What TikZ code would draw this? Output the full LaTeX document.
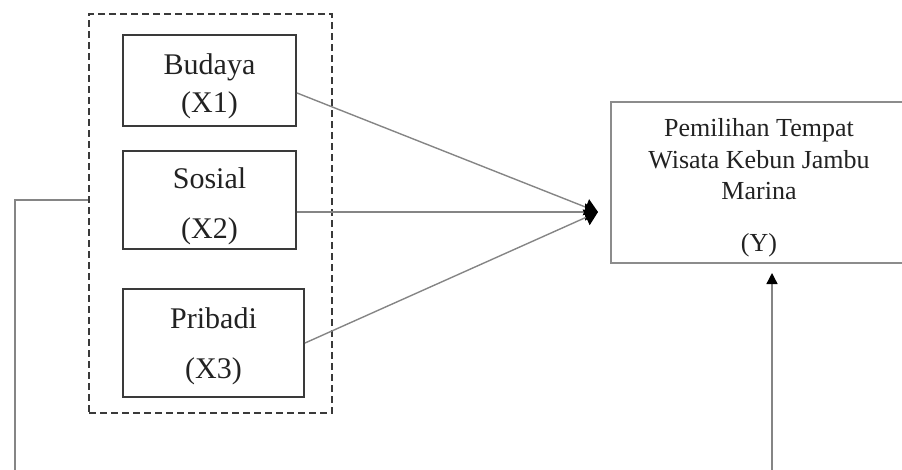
\documentclass[tikz,border=0pt]{standalone}
\usepackage{fontspec}
\setmainfont{Liberation Serif}
\usetikzlibrary{arrows.meta,calc}
\definecolor{boxline}{HTML}{3A3A3A}
\definecolor{conn}{HTML}{858585}
\definecolor{ybox}{HTML}{8C8C8C}
\definecolor{txt}{HTML}{222222}
\tikzset{
  varbox/.style={draw=boxline, line width=2pt, rectangle, inner sep=0pt},
  vartext/.style={align=center, text=txt, inner sep=0pt, font=\fontsize{30}{38}\selectfont},
  ytext/.style={align=center, text=txt, inner sep=0pt, font=\fontsize{26}{31.5}\selectfont},
  conline/.style={draw=conn, line width=1.4pt},
  tip/.style={-{Triangle[length=13pt,width=17pt,color=black]}}
}
\begin{document}
\begin{tikzpicture}[x=1pt,y=-1pt]
\useasboundingbox (0,0) rectangle (902,469);
\node[varbox, minimum width=173pt, minimum height=91pt] (bud) at (209.5,80.5) {};
\node[varbox, minimum width=173pt, minimum height=98pt] (sos) at (209.5,200) {};
\node[varbox, minimum width=181pt, minimum height=108pt] (pri) at (213.5,343) {};
\node[vartext] (budt) at ([yshift=-6pt]bud.center) {Budaya\\(X1)};
\node[vartext] (sost) at ([yshift=-6pt]sos.center) {Sosial\\[12pt](X2)};
\node[vartext] (prit) at ([yshift=-3pt]pri.center) {Pribadi\\[12pt](X3)};
\node[draw=boxline, line width=1.8pt, dash pattern=on 7pt off 4pt, minimum width=243pt, minimum height=399pt, inner sep=0pt] (grp) at (210.5,213.5) {};
\node[draw=ybox, line width=2pt, minimum width=294pt, minimum height=161pt, inner sep=0pt] (y) at (758,182.5) {};
\node[ytext] (yt) at ([xshift=1pt,yshift=-5pt]y.center) {Pemilihan Tempat\\Wisata Kebun Jambu\\Marina\\[20pt](Y)};
\coordinate (conv) at (598,212);
\coordinate (bl) at (15,470);
\coordinate (br) at (772,470);
\draw[conline, tip] ([yshift=-12.5pt]bud.east) -- (conv);
\draw[conline, tip] ([yshift=-12pt]sos.east) -- (conv);
\draw[conline, tip] (pri.east) -- (conv);
\draw[conline] ([yshift=13.5pt]grp.west) -| (bl);
\draw[conline, {Triangle[length=11pt,width=11pt,color=black]}-, shorten <=9pt] (br |- y.south) -- (br);
\end{tikzpicture}
\end{document}
